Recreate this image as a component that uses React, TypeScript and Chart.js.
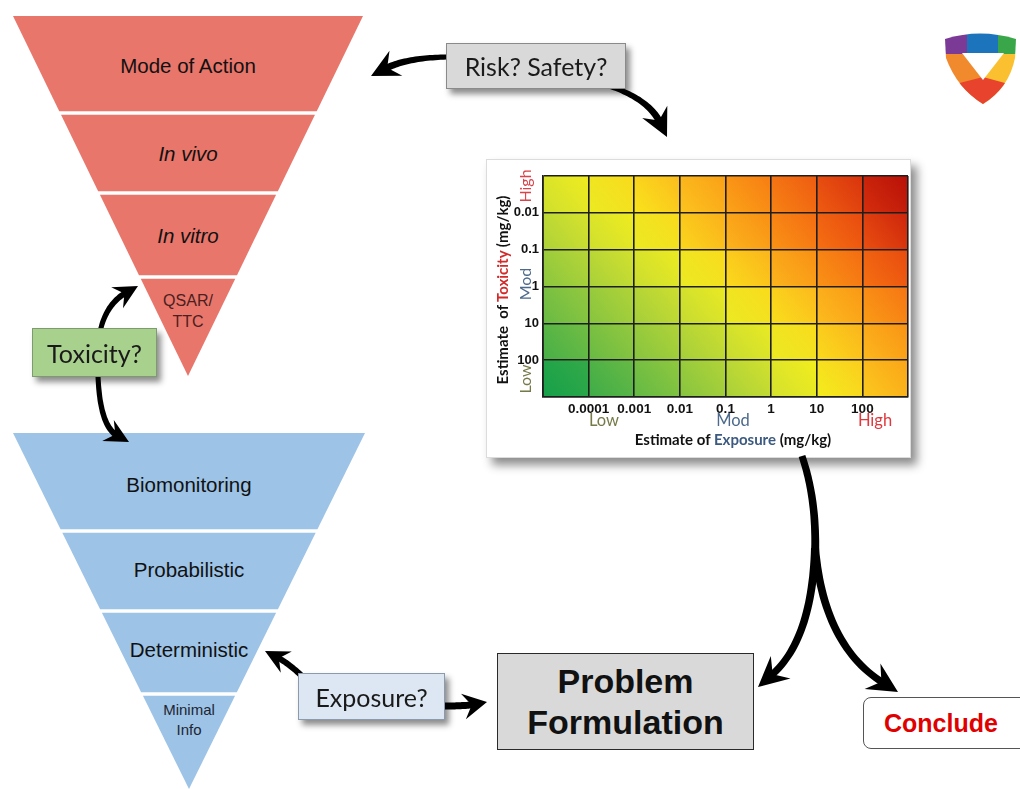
import React, { useEffect, useRef } from 'react';
import { Chart, registerables } from 'chart.js';

Chart.register(...registerables);

// ---------- data ----------
const exposureTicks = ['', '0.0001', '0.001', '0.01', '0.1', '1', '10', '100', ''];
const toxicityTicks = ['', '100', '10', '1', '0.1', '0.01', '']; // bottom -> top
const exposureLevels = ['Low', 'Mod', 'High'];
const toxicityLevels = ['Low', 'Mod', 'High'];
// risk score per cell (0 = green ... 10 = dark red); rows listed top (high toxicity) -> bottom
const riskRowA = [4.3, 5.0, 5.7, 6.4, 7.2, 8.0, 8.9, 9.9];
const riskRowB = [3.6, 4.3, 5.0, 6.0, 6.8, 7.6, 8.4, 9.2];
const riskRowC = [2.9, 3.5, 4.2, 5.0, 5.9, 6.8, 7.6, 8.4];
const riskRowD = [2.2, 2.8, 3.4, 4.1, 5.0, 5.8, 6.6, 7.4];
const riskRowE = [1.5, 2.2, 2.8, 3.4, 4.1, 5.0, 5.9, 6.7];
const riskRowF = [0.2, 1.3, 2.1, 2.8, 3.5, 4.4, 5.3, 6.3];
const riskRows = [riskRowA, riskRowB, riskRowC, riskRowD, riskRowE, riskRowF];
const toxicityTiers = ['Mode of Action', 'In vivo', 'In vitro', 'QSAR/\nTTC'];
const exposureTiers = ['Biomonitoring', 'Probabilistic', 'Deterministic', 'Minimal\nInfo'];

// ---------- styles ----------
const SANS = '"Liberation Sans", Arial, sans-serif';
const CAL = 'Lato, "Open Sans", sans-serif';
const colorStops: [number, number[]][] = [
  [0, [22, 160, 74]],
  [1.5, [92, 182, 70]],
  [3, [166, 207, 59]],
  [4.2, [223, 230, 42]],
  [5, [248, 239, 26]],
  [6, [252, 194, 31]],
  [7, [250, 154, 22]],
  [8, [245, 110, 18]],
  [9, [230, 69, 15]],
  [10, [192, 20, 10]],
  [11, [170, 8, 4]],
];
function colorFor(v: number): string {
  if (v <= colorStops[0][0]) return `rgb(${colorStops[0][1].join(',')})`;
  for (let i = 1; i < colorStops.length; i++) {
    const [b, cb] = colorStops[i];
    const [a, ca] = colorStops[i - 1];
    if (v <= b) {
      const t = (v - a) / (b - a);
      const c = ca.map((x, k) => Math.round(x + (cb[k] - x) * t));
      return `rgb(${c.join(',')})`;
    }
  }
  return `rgb(${colorStops[colorStops.length - 1][1].join(',')})`;
}

function cellFill(ctx: any) {
  const raw = ctx.raw as { x: number; y: [number, number]; v: number } | undefined;
  if (!raw) return 'transparent';
  const chart = ctx.chart;
  const xs = chart.scales.x;
  const ys = chart.scales.y;
  const solid = colorFor(raw.v);
  if (!xs || !ys) return solid;
  const x0 = xs.getPixelForValue(raw.x - 0.5);
  const x1 = xs.getPixelForValue(raw.x + 0.5);
  const y0 = ys.getPixelForValue(raw.y[0]);
  const y1 = ys.getPixelForValue(raw.y[1]);
  if (![x0, x1, y0, y1].every((n) => Number.isFinite(n))) return solid;
  const g = chart.ctx.createLinearGradient(x0, y0, x1, y1);
  g.addColorStop(0, colorFor(raw.v - 0.45));
  g.addColorStop(1, colorFor(raw.v + 0.45));
  return g;
}

function RiskMatrix() {
  const ref = useRef<HTMLCanvasElement | null>(null);
  useEffect(() => {
    if (!ref.current) return;
    const datasets = riskRows.map((row, ri) => {
      const level = riskRows.length - 1 - ri;
      return {
        label: toxicityTicks[level + 1] || 'row',
        data: row.map((v, ci) => ({ x: ci + 0.5, y: [level, level + 1], v })),
        backgroundColor: cellFill,
        borderWidth: 0,
        grouped: false,
        barPercentage: 1,
        categoryPercentage: 1,
      };
    });
    const gridStyle = { color: '#1e1e1e', lineWidth: 1.6, drawTicks: false, z: 1, offset: false };
    const chart = new Chart(ref.current, {
      type: 'bar',
      data: { datasets: datasets as any },
      options: {
        animation: false,
        responsive: false,
        maintainAspectRatio: false,
        layout: { padding: { top: 16, right: 2, left: 0, bottom: 0 } },
        plugins: { legend: { display: false }, tooltip: { enabled: false } },
        scales: {
          x: {
            type: 'linear',
            min: 0,
            max: 8,
            offset: false,
            grid: gridStyle as any,
            border: { display: true, color: '#1e1e1e', width: 1.6, z: 1 },
            afterFit: (s: any) => { s.height = 62; },
            ticks: {
              stepSize: 1,
              autoSkip: false,
              maxRotation: 0,
              padding: 4,
              color: '#111',
              font: { family: SANS, size: 13.5, weight: 'bold' },
              callback: (v: any) => exposureTicks[Math.round(Number(v))] ?? '',
            },
          },
          y: {
            type: 'linear',
            min: 0,
            max: 6,
            grid: gridStyle as any,
            border: { display: true, color: '#1e1e1e', width: 1.6, z: 1 },
            afterFit: (s: any) => { s.width = 56; },
            ticks: {
              stepSize: 1,
              autoSkip: false,
              padding: 4,
              color: '#111',
              font: { family: SANS, size: 13, weight: 'bold' },
              callback: (v: any) => toxicityTicks[Math.round(Number(v))] ?? '',
            },
          },
        },
      } as any,
    });
    return () => chart.destroy();
  }, []);
  return <canvas ref={ref} width={425} height={299} style={{ position: 'absolute', left: 0, top: 0, width: 425, height: 299 }} />;
}

// ---------- diagram helpers ----------
type P = [number, number];
function arrowPaths(p0: P, c: P, tip: P, w0: number, w1: number, headL: number, headW: number, withHead = true) {
  let dx = tip[0] - c[0];
  let dy = tip[1] - c[1];
  const len = Math.hypot(dx, dy) || 1;
  dx /= len; dy /= len;
  const notch = headL * 0.35;
  const end: P = withHead ? [tip[0] - dx * (headL - notch - 2), tip[1] - dy * (headL - notch - 2)] : tip;
  const left: P[] = [];
  const right: P[] = [];
  const N = 30;
  for (let i = 0; i <= N; i++) {
    const t = i / N;
    const mt = 1 - t;
    const x = mt * mt * p0[0] + 2 * mt * t * c[0] + t * t * end[0];
    const y = mt * mt * p0[1] + 2 * mt * t * c[1] + t * t * end[1];
    let tx = 2 * mt * (c[0] - p0[0]) + 2 * t * (end[0] - c[0]);
    let ty = 2 * mt * (c[1] - p0[1]) + 2 * t * (end[1] - c[1]);
    const tl = Math.hypot(tx, ty) || 1;
    tx /= tl; ty /= tl;
    const w = (w0 + (w1 - w0) * t) / 2;
    left.push([x - ty * w, y + tx * w]);
    right.push([x + ty * w, y - tx * w]);
  }
  const f = (p: P) => `${p[0].toFixed(1)},${p[1].toFixed(1)}`;
  const body = 'M' + left.map(f).join(' L') + ' L' + right.reverse().map(f).join(' L') + ' Z';
  let head = '';
  if (withHead) {
    const nx = -dy, ny = dx;
    const bx = tip[0] - dx * headL, by = tip[1] - dy * headL;
    const w1p: P = [bx + nx * headW, by + ny * headW];
    const w2p: P = [bx - nx * headW, by - ny * headW];
    const np: P = [tip[0] - dx * (headL - notch), tip[1] - dy * (headL - notch)];
    head = `M${f(tip)} L${f(w1p)} L${f(np)} L${f(w2p)} Z`;
  }
  return { body, head };
}

function Arrow(props: { p0: P; c: P; tip: P; w0?: number; w1?: number; hl?: number; hw?: number; head?: boolean }) {
  const { body, head } = arrowPaths(props.p0, props.c, props.tip, props.w0 ?? 4, props.w1 ?? 7, props.hl ?? 26, props.hw ?? 13, props.head ?? true);
  return (
    <g fill="#000">
      <path d={body} />
      {head && <path d={head} />}
    </g>
  );
}

function Funnel(props: { tiers: string[]; top: number; left: number; right: number; apexX: number; apexY: number; cuts: number[]; textY: number[][]; fill: string; fonts: any[]; colors: string[] }) {
  const { top, left, right, apexX, apexY, cuts } = props;
  const xl = (y: number) => left + (apexX - left) * (y - top) / (apexY - top);
  const xr = (y: number) => right - (right - apexX) * (y - top) / (apexY - top);
  const bounds = [top, ...cuts, apexY];
  const gap = 1.8;
  return (
    <g>
      {props.tiers.map((t, i) => {
        const y0 = i === 0 ? bounds[0] : bounds[i] + gap;
        const y1 = i === props.tiers.length - 1 ? bounds[i + 1] : bounds[i + 1] - gap;
        const pts = i === props.tiers.length - 1
          ? `${xl(y0)},${y0} ${xr(y0)},${y0} ${apexX},${apexY}`
          : `${xl(y0)},${y0} ${xr(y0)},${y0} ${xr(y1)},${y1} ${xl(y1)},${y1}`;
        const lines = t.split('\n');
        return (
          <g key={i}>
            <polygon points={pts} fill={props.fill} />
            {lines.map((ln, k) => (
              <text key={k} x={apexX} y={props.textY[i][k]} textAnchor="middle" dominantBaseline="central"
                style={{ fontFamily: SANS, ...props.fonts[i] }} fill={props.colors[i]}>{ln}</text>
            ))}
          </g>
        );
      })}
    </g>
  );
}

function Box(props: { x: number; y: number; w: number; h: number; bg: string; border: string; shadow?: string; radius?: number; children: any; style?: any }) {
  return (
    <div style={{
      position: 'absolute', left: props.x, top: props.y, width: props.w, height: props.h, boxSizing: 'border-box',
      background: props.bg, border: `1px solid ${props.border}`, boxShadow: props.shadow ?? 'none', borderRadius: props.radius ?? 0,
      display: 'flex', alignItems: 'center', justifyContent: 'center', flexDirection: 'column', whiteSpace: 'nowrap', ...props.style,
    }}>{props.children}</div>
  );
}

function Logo() {
  const outer = 'M945,39 Q980,28 1016,39 L1015,58 Q1009,88 983,104 Q957,88 946,58 Z';
  return (
    <g>
      <defs>
        <clipPath id="shield"><path d={outer} /></clipPath>
      </defs>
      <g clipPath="url(#shield)">
        <rect x={940} y={25} width={27} height={29} fill="#7b3a96" />
        <rect x={967} y={25} width={31} height={29} fill="#1c75bc" />
        <rect x={998} y={25} width={25} height={29} fill="#3aa64a" />
        <rect x={940} y={54} width={43} height={55} fill="#f08a2c" />
        <rect x={983} y={54} width={40} height={55} fill="#fbc02f" />
        <polygon points="940,88 983,77 1023,88 1023,110 940,110" fill="#e8432d" />
      </g>
      <polygon points="962,53 1004,53 983,80" fill="#fff" />
    </g>
  );
}

export default function App() {
  useEffect(() => {
    document.body.style.margin = '0';
    document.body.style.background = '#fff';
  }, []);
  const funnelFont = { fontSize: 20.5 };
  return (
    <div style={{ position: 'absolute', left: 0, top: 0, width: 1020, height: 789, overflow: 'hidden', background: '#fff' }}>
      <svg width={1020} height={789} style={{ position: 'absolute', left: 0, top: 0 }}>
        <Funnel tiers={toxicityTiers} top={16} left={13} right={363} apexX={188} apexY={376} cuts={[113, 193, 277]}
          textY={[[65], [153], [235], [300, 321]]} fill="#e8766b"
          fonts={[funnelFont, { ...funnelFont, fontStyle: 'italic' }, { ...funnelFont, fontStyle: 'italic' }, { fontSize: 16 }]}
          colors={['#111', '#111', '#111', '#4a2020']} />
        <Funnel tiers={exposureTiers} top={433} left={13} right={365} apexX={189} apexY={789} cuts={[531, 611, 694]}
          textY={[[484], [569], [649], [709, 729]]} fill="#9dc3e6"
          fonts={[funnelFont, funnelFont, funnelFont, { fontSize: 15 }]}
          colors={['#111', '#111', '#111', '#1d2633']} />
        <Logo />
      </svg>

      <div style={{ position: 'absolute', left: 486, top: 159, width: 425, height: 299, background: '#fff', border: '1px solid #dcdcdc', boxSizing: 'border-box', boxShadow: '6px 7px 9px rgba(0,0,0,0.45)' }}>
        <RiskMatrix />
      </div>
      {/* heat-map axis annotations */}
      {exposureLevels.map((t, i) => (
        <div key={t} style={{ position: 'absolute', left: [604, 733, 875][i], top: 420, transform: 'translate(-50%,-50%)', fontFamily: CAL, fontSize: 16.5, color: ['#767a48', '#4d6a8c', '#e0383c'][i] }}>{t}</div>
      ))}
      {toxicityLevels.map((t, i) => (
        <div key={t} style={{ position: 'absolute', left: 524, top: [379, 284, 186][i], transform: 'translate(-50%,-50%) rotate(-90deg)', fontFamily: CAL, fontSize: 16, color: ['#767a48', '#4d6a8c', '#d9434a'][i] }}>{t}</div>
      ))}
      <div style={{ position: 'absolute', left: 733, top: 439, transform: 'translate(-50%,-50%)', fontFamily: CAL, fontWeight: 700, fontSize: 15, color: '#111', whiteSpace: 'nowrap' }}>
        Estimate of <span style={{ color: '#3c5a80' }}>Exposure</span> (mg/kg)
      </div>
      <div style={{ position: 'absolute', left: 502, top: 290, transform: 'translate(-50%,-50%) rotate(-90deg)', fontFamily: CAL, fontWeight: 700, fontSize: 15, color: '#111', whiteSpace: 'pre' }}>
        {'Estimate  of '}<span style={{ color: '#d22a2a' }}>Toxicity</span>{' (mg/kg)'}
      </div>

      <svg width={1020} height={789} style={{ position: 'absolute', left: 0, top: 0 }}>
        <Arrow p0={[452, 57]} c={[408, 57]} tip={[371, 76]} w0={5} w1={7} hl={28} hw={14} />
        <Arrow p0={[606, 85]} c={[648, 98]} tip={[667, 137]} w0={5} w1={7} hl={28} hw={14} />
        <Arrow p0={[100, 332]} c={[106, 304]} tip={[138, 286]} w0={5} w1={6} hl={24} hw={12} />
        <Arrow p0={[98, 376]} c={[100, 426]} tip={[129, 442]} w0={5} w1={6} hl={24} hw={12} />
        <Arrow p0={[306, 680]} c={[290, 664]} tip={[265, 651]} w0={6} w1={6} hl={24} hw={12} />
        <Arrow p0={[442, 706]} c={[466, 706]} tip={[487, 702]} w0={7} w1={7} hl={24} hw={13} />
        <Arrow p0={[802, 456]} c={[817, 500]} tip={[815, 555]} w0={7} w1={8} head={false} />
        <Arrow p0={[815, 548]} c={[812, 640]} tip={[758, 687]} w0={8} w1={7} hl={30} hw={15} />
        <Arrow p0={[815, 548]} c={[824, 646]} tip={[898, 692]} w0={8} w1={7} hl={30} hw={15} />
      </svg>

      <Box x={446} y={43} w={180} h={46} bg="#d9d9d9" border="#8a8a8a" shadow="4px 5px 6px rgba(0,0,0,0.45)">
        <span style={{ fontFamily: CAL, fontSize: 25, color: '#1a1a1a' }}>Risk? Safety?</span>
      </Box>
      <Box x={32} y={328} w={125} h={49} bg="#a9d18e" border="#7f9a70" shadow="4px 5px 6px rgba(0,0,0,0.45)">
        <span style={{ fontFamily: CAL, fontSize: 25, color: '#1a1a1a' }}>Toxicity?</span>
      </Box>
      <Box x={298} y={673} w={147} h={47} bg="#dde7f3" border="#8c9aae" shadow="4px 5px 6px rgba(0,0,0,0.45)">
        <span style={{ fontFamily: CAL, fontSize: 25, color: '#1a1a1a' }}>Exposure?</span>
      </Box>
      <Box x={497} y={653} w={257} h={97} bg="#d9d9d9" border="#2a2a2a">
        <span style={{ fontFamily: SANS, fontWeight: 700, fontSize: 34, color: '#111', lineHeight: '41px' }}>Problem</span>
        <span style={{ fontFamily: SANS, fontWeight: 700, fontSize: 34, color: '#111', lineHeight: '41px' }}>Formulation</span>
      </Box>
      <Box x={863} y={697} w={175} h={52} bg="#fff" border="#555" radius={8} style={{ justifyContent: 'center', alignItems: 'flex-start', paddingLeft: 20 }}>
        <span style={{ fontFamily: SANS, fontWeight: 700, fontSize: 25, color: '#e00000' }}>Conclude</span>
      </Box>
    </div>
  );
}
